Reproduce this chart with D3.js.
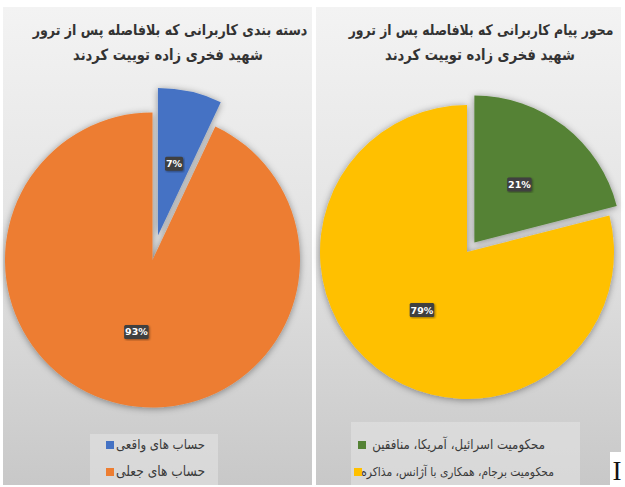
<!DOCTYPE html>
<html>
<head>
<meta charset="utf-8">
<script src="https://cdn.jsdelivr.net/npm/d3@7"></script>
<style>
  body { margin: 0; background: #fff; }
  svg { display: block; }
</style>
</head>
<body>
<svg id="chart" width="625" height="487"></svg>
<script>
// left chart
const leftTitle = ['دسته بندی کاربرانی که بلافاصله پس از ترور', 'شهید فخری زاده توییت کردند'];
const leftLabels = ['حساب های واقعی', 'حساب های جعلی'];
const leftValues = [7, 93];
const leftColors = ['#4472C4', '#ED7D31'];

// right chart
const rightTitle = ['محور پیام کاربرانی که بلافاصله پس از ترور', 'شهید فخری زاده توییت کردند'];
const rightLabels = ['محکومیت اسرائیل، آمریکا، منافقین', 'محکومیت برجام، همکاری با آژانس، مذاکره'];
const rightValues = [21, 79];
const rightColors = ['#548235', '#FFC000'];

const svg = d3.select('#chart');
const font = '"DejaVu Sans", sans-serif';

const defs = svg.append('defs');
const grad = defs.append('linearGradient')
    .attr('id', 'bg').attr('x1', 0).attr('y1', 0).attr('x2', 0).attr('y2', 1);
grad.append('stop').attr('offset', '0%').attr('stop-color', '#f3f3f3');
grad.append('stop').attr('offset', '45%').attr('stop-color', '#e4e4e4');
grad.append('stop').attr('offset', '100%').attr('stop-color', '#c8c8c8');

const shadow = defs.append('filter').attr('id', 'shadow')
    .attr('x', '-20%').attr('y', '-20%').attr('width', '140%').attr('height', '140%');
shadow.append('feDropShadow')
    .attr('dx', 0).attr('dy', 1).attr('stdDeviation', 3.5)
    .attr('flood-color', '#000').attr('flood-opacity', 0.4);

const lblShadow = defs.append('filter').attr('id', 'lblshadow');
lblShadow.append('feDropShadow')
    .attr('dx', 1).attr('dy', 1).attr('stdDeviation', 0.8)
    .attr('flood-color', '#000').attr('flood-opacity', 0.4);

// fit a text to a target width by font size, then stretch it a little in height
function fitText(sel, target, stretch) {
    const w = sel.node().getComputedTextLength();
    const size = parseFloat(sel.attr('font-size'));
    sel.attr('font-size', size * target / w);
    const y = +sel.attr('y');
    sel.attr('transform', `translate(0,${y}) scale(1,${stretch}) translate(0,${-y})`);
}

function drawPanel(cfg) {
    const g = svg.append('g');

    g.append('rect')
        .attr('x', cfg.x).attr('y', 7)
        .attr('width', cfg.w).attr('height', 478)
        .attr('fill', 'url(#bg)');

    cfg.title.forEach((t, i) => {
        const txt = g.append('text')
            .attr('x', cfg.titleX[i]).attr('y', 35 + i * 25)
            .attr('text-anchor', 'middle')
            .attr('font-family', font).attr('font-weight', 'bold')
            .attr('font-size', 16).attr('fill', '#333')
            .text(t);
        fitText(txt, cfg.titleW[i], 1.18);
    });

    const pie = d3.pie().sort(null).value(d => d)(cfg.values);
    const arc = d3.arc().innerRadius(0).outerRadius(cfg.r);

    const pieG = g.append('g')
        .attr('transform', `translate(${cfg.cx},${cfg.cy})`)
        .attr('filter', 'url(#shadow)');

    const slices = pieG.selectAll('g.slice')
        .data(pie)
        .join('g')
        .attr('class', 'slice')
        .attr('transform', (d, i) => {
            if (i !== 0) return null;
            const a = (d.startAngle + d.endAngle) / 2;
            return `translate(${Math.sin(a) * cfg.explode},${-Math.cos(a) * cfg.explode})`;
        });

    slices.append('path')
        .attr('d', arc)
        .attr('fill', (d, i) => cfg.colors[i]);

    // data labels
    const lblG = g.append('g').attr('transform', `translate(${cfg.cx},${cfg.cy})`);
    pie.forEach((d, i) => {
        let [lx, ly] = arc.centroid(d);
        if (i === 0) {
            const a = (d.startAngle + d.endAngle) / 2;
            lx += Math.sin(a) * cfg.explode;
            ly -= Math.cos(a) * cfg.explode;
        }
        const label = d.data + '%';
        const bw = label.length * 6.5 + 5;
        lblG.append('rect')
            .attr('x', lx - bw / 2).attr('y', ly - 7)
            .attr('width', bw).attr('height', 14)
            .attr('rx', 1.5)
            .attr('fill', '#3f3f3f')
            .attr('filter', 'url(#lblshadow)');
        lblG.append('text')
            .attr('x', lx).attr('y', ly + 3.5)
            .attr('text-anchor', 'middle')
            .attr('font-family', font).attr('font-weight', 'bold')
            .attr('font-size', 9.5).attr('fill', '#fff')
            .text(label);
    });

    // legend
    const lg = cfg.legend;
    g.append('rect')
        .attr('x', lg.x).attr('y', lg.y)
        .attr('width', lg.w).attr('height', lg.h)
        .attr('fill', '#e2e2e2').attr('opacity', 0.6);

    cfg.labels.forEach((t, i) => {
        const y = lg.rows[i];
        g.append('rect')
            .attr('x', lg.sqX[i]).attr('y', y - 4)
            .attr('width', 8).attr('height', 8)
            .attr('fill', cfg.colors[i]);
        const txt = g.append('text')
            .attr('x', lg.textRight[i]).attr('y', y + 4)
            .attr('text-anchor', 'end')
            .attr('font-family', font)
            .attr('font-size', 12).attr('fill', '#3a3a3a')
            .text(t);
        fitText(txt, lg.textW[i], 1.15);
    });
}

drawPanel({
    x: 3, w: 309,
    title: leftTitle, titleX: [170, 168], titleW: [275, 190],
    values: leftValues, colors: leftColors, labels: leftLabels,
    cx: 152.5, cy: 260, r: 147.5, explode: 25,
    legend: {
        x: 90, y: 434, w: 128, h: 51,
        rows: [445, 472], sqX: [106, 106],
        textRight: [205, 205], textW: [89, 89]
    }
});

drawPanel({
    x: 316, w: 305,
    title: rightTitle, titleX: [481, 480], titleW: [265, 190],
    values: rightValues, colors: rightColors, labels: rightLabels,
    cx: 467, cy: 252, r: 147, explode: 12,
    legend: {
        x: 351, y: 422, w: 229, h: 63,
        rows: [445, 472], sqX: [358, 354],
        textRight: [545, 554], textW: [173, 193]
    }
});

// stray glyph at the bottom right of the picture, on a white patch
svg.append('rect')
    .attr('x', 610).attr('y', 452)
    .attr('width', 15).attr('height', 35)
    .attr('fill', '#fff');
svg.append('text')
    .attr('x', 617).attr('y', 480)
    .attr('text-anchor', 'middle')
    .attr('font-family', '"Liberation Serif", serif')
    .attr('font-size', 27).attr('fill', '#111')
    .text('I');
</script>
</body>
</html>
